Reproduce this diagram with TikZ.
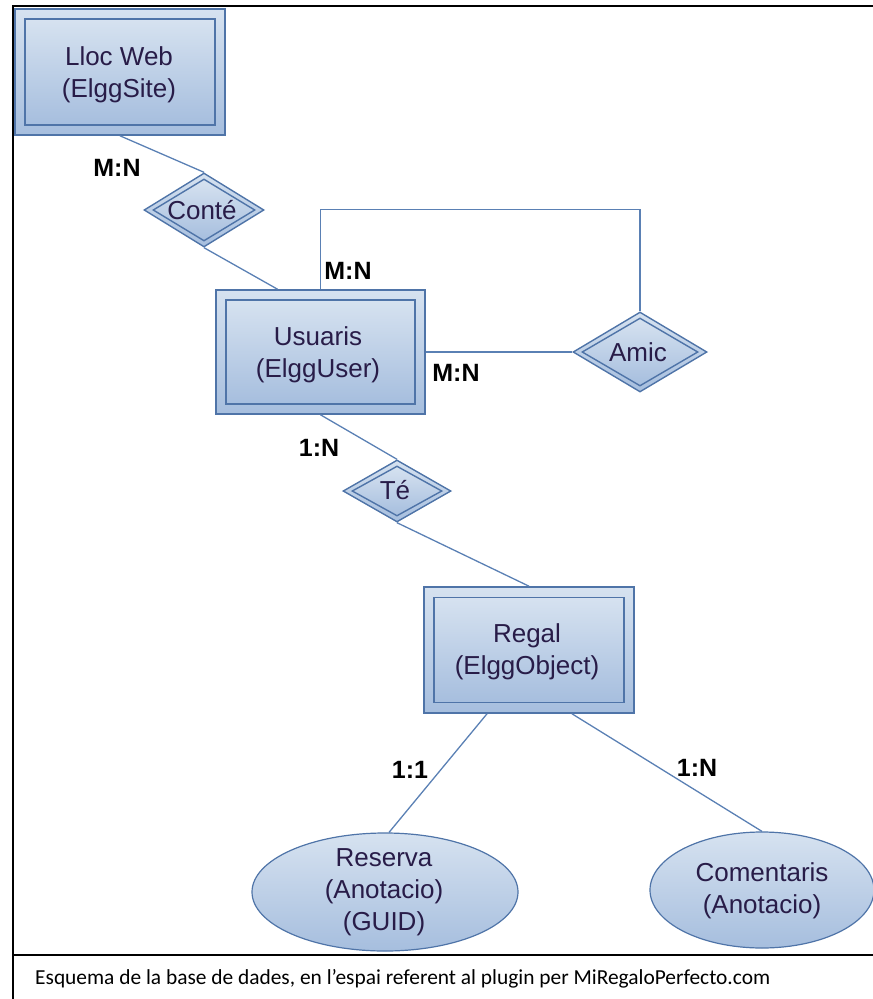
\documentclass[tikz,border=0pt]{standalone}
\usepackage{fontspec}
\setmainfont{Liberation Sans}
\newfontfamily\capfont{Carlito}
\usetikzlibrary{shapes.geometric,calc}
\definecolor{edgeblue}{RGB}{79,116,168}
\definecolor{lineblue}{RGB}{90,128,180}
\definecolor{fillhi}{RGB}{214,226,240}
\definecolor{filllo}{RGB}{166,190,222}
\definecolor{txt}{RGB}{40,28,72}
\tikzset{
  ent/.style={rectangle, draw=edgeblue, line width=1.6pt, top color=fillhi, bottom color=filllo, inner sep=0pt},
  rel/.style={diamond, draw=edgeblue, line width=1.4pt, top color=fillhi, bottom color=filllo, inner sep=0pt, aspect=1.6},
  attr/.style={ellipse, draw=edgeblue, line width=1.2pt, top color=fillhi, bottom color=filllo, inner sep=0pt},
  lbl/.style={text=txt, font=\fontsize{26}{32}\selectfont, align=center, inner sep=0pt},
  card/.style={font=\fontsize{25}{26}\selectfont\bfseries, text=black, inner sep=0pt},
  conn/.style={draw=lineblue, line width=1.3pt},
  frameline/.style={draw=black, line width=1.6pt}
}
\begin{document}
\begin{tikzpicture}[x=1pt,y=-1pt]
\useasboundingbox (0,0) rectangle (873,999);
% frame
\draw[frameline] (13,999) -- (13,6) -- (873,6);
\draw[frameline] (13,955) -- (873,955);
\node[anchor=west, inner sep=0pt, font=\capfont\fontsize{21.4}{24}\selectfont] (cap) at (35,979) {Esquema de la base de dades, en l’espai referent al plugin per MiRegaloPerfecto.com};

% entities
\node[ent, minimum width=210pt, minimum height=126pt] (lloc) at (120,72) {};
\node[ent, minimum width=190pt, minimum height=106pt] (lloci) at (120,72) {};
\node[lbl] (llocT) at (119,75) {Lloc Web\\(ElggSite)};

\node[ent, minimum width=209pt, minimum height=124pt] (usu) at (320.5,352) {};
\node[ent, minimum width=189pt, minimum height=104pt] (usui) at (320.5,352) {};
\node[lbl] (usuT) at (318,355) {Usuaris\\(ElggUser)};

\node[ent, minimum width=210pt, minimum height=126pt] (regal) at (529,650) {};
\node[ent, minimum width=190pt, minimum height=105pt] (regali) at (529,650) {};
\node[lbl] (regalT) at (527,652) {Regal\\(ElggObject)};

% relationships
\node[rel, minimum width=120pt, minimum height=74pt] (conte) at (204,210) {};
\node[rel, minimum width=102pt, minimum height=62pt] (contei) at (204,210) {};
\node[lbl] (conteT) at (202,210) {Conté};

\node[rel, minimum width=134pt, minimum height=80pt] (amic) at (640,352) {};
\node[rel, minimum width=116pt, minimum height=68pt] (amici) at (640,352) {};
\node[lbl] (amicT) at (638,352) {Amic};

\node[rel, minimum width=108pt, minimum height=62pt] (te) at (397,491) {};
\node[rel, minimum width=90pt, minimum height=50pt] (tei) at (397,491) {};
\node[lbl] (teT) at (395,490) {Té};

% attributes
\node[attr, minimum width=266pt, minimum height=118pt] (reserva) at (385,892) {};
\node[lbl] (reservaT) at (384,892) {Reserva\\(Anotacio)\\(GUID)};
\node[attr, minimum width=224pt, minimum height=116pt] (coment) at (762,890) {};
\node[lbl] (comentT) at (762,891) {Comentaris\\(Anotacio)};

% connectors
\draw[conn] (lloc.south) -- (conte.north);
\draw[conn] (conte.south) -- ($(usu.north)+(-43,0)$);
\draw[conn] (usu.north) -- ++(0,-80) -| (amic.north);
\draw[conn] (usu.east) -- (amic.west);
\draw[conn] (usu.south) -- (te.north);
\draw[conn] (te.south) -- (regal.north);
\draw[conn] ($(regal.south)+(-42,0)$) -- ($(reserva.north)+(4,0)$);
\draw[conn] ($(regal.south)+(43,0)$) -- (coment.north);

% cardinalities
\node[card] (c1) at (117,168) {M:N};
\node[card] (c2) at (348,271) {M:N};
\node[card] (c3) at (456,373) {M:N};
\node[card] (c4) at (319,448) {1:N};
\node[card] (c5) at (410,770) {1:1};
\node[card] (c6) at (697,768) {1:N};
\end{tikzpicture}
\end{document}
